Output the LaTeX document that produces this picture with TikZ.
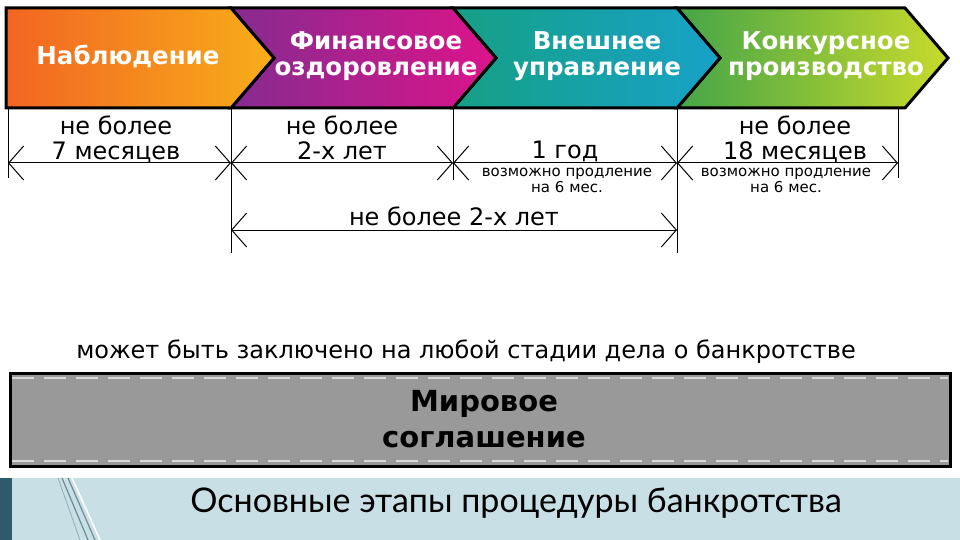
\documentclass[tikz,border=0pt]{standalone}
\usepackage{fontspec}
\setmainfont{DejaVu Sans}
\newfontfamily\titlefont{Lato}
\usetikzlibrary{arrows.meta}
\definecolor{o1}{HTML}{F26522}\definecolor{o2}{HTML}{F8AE1A}
\definecolor{p1}{HTML}{862B90}\definecolor{p2}{HTML}{DC148A}
\definecolor{t1}{HTML}{16A085}\definecolor{t2}{HTML}{17A2C8}
\definecolor{g1}{HTML}{45A548}\definecolor{g2}{HTML}{C8DA2B}
\definecolor{band}{HTML}{C9DFE6}\definecolor{strip}{HTML}{2E5A6B}
\tikzset{
 stage/.style={draw=black,line width=3,line join=miter},
 stagetxt/.style={text=white,font=\bfseries\fontsize{24.5}{26}\selectfont,align=center},
 dim/.style={line width=1,{Straight Barb[length=15,width=34]}-{Straight Barb[length=15,width=34]}},
 vline/.style={line width=1},
 lbl/.style={font=\fontsize{24}{25}\selectfont,align=center},
 small/.style={font=\fontsize{15}{16}\selectfont,align=center},
}
\begin{document}
\begin{tikzpicture}[x=1pt,y=-1pt]
\useasboundingbox (0,0) rectangle (960,540);
\fill[white] (0,0) rectangle (960,540);
% stages
\shade[left color=g1,right color=g2] (677,8)--(905,8)--(948,58)--(905,108)--(677,108)--(720,58)--cycle;
\draw[stage] (677,8)--(905,8)--(948,58)--(905,108)--(677,108)--(720,58)--cycle;
\shade[left color=t1,right color=t2] (453,8)--(677,8)--(720,58)--(677,108)--(453,108)--(496,58)--cycle;
\draw[stage] (453,8)--(677,8)--(720,58)--(677,108)--(453,108)--(496,58)--cycle;
\shade[left color=p1,right color=p2] (231,8)--(453,8)--(496,58)--(453,108)--(231,108)--(274,58)--cycle;
\draw[stage] (231,8)--(453,8)--(496,58)--(453,108)--(231,108)--(274,58)--cycle;
\shade[left color=o1,right color=o2] (6,8)--(231,8)--(274,58)--(231,108)--(6,108)--cycle;
\draw[stage] (6,8)--(231,8)--(274,58)--(231,108)--(6,108)--cycle;
\node[stagetxt] (s1) at (128,56) {Наблюдение};
\node[stagetxt] (s2) at (376,56) {Финансовое\\оздоровление};
\node[stagetxt] (s3) at (597,56) {Внешнее\\управление};
\node[stagetxt] (s4) at (826,56) {Конкурсное\\производство};
% vertical guides
\coordinate (v0) at (8,163); \coordinate (v1) at (231,163); \coordinate (v2) at (453,163);
\coordinate (v3) at (677,163); \coordinate (v4) at (898,163);
\coordinate (w1) at (231,230); \coordinate (w3) at (677,230);
\draw[vline] (8,108)--(8,178);
\draw[vline] (231,108)--(231,253);
\draw[vline] (453,108)--(453,180);
\draw[vline] (677,108)--(677,253);
\draw[vline] (898,108)--(898,178);
\draw[dim] (v0)--(v1); \draw[dim] (v1)--(v2); \draw[dim] (v2)--(v3); \draw[dim] (v3)--(v4);
\draw[dim] (w1)--(w3);
\node[lbl] (d1) at (116,139) {не более\\7 месяцев};
\node[lbl] (d2) at (342,138) {не более\\2-х лет};
\node[lbl] (d3) at (565,151) {1 год};
\node[small] (e3) at (567,180) {возможно продление\\на 6 мес.};
\node[lbl] (d4) at (795,139) {не более\\18 месяцев};
\node[small] (e4) at (786,180) {возможно продление\\на 6 мес.};
\node[lbl] (d5) at (454,216) {не более 2-х лет};
% settlement
\node[lbl] (note) at (466,352) {может быть заключено на любой стадии дела о банкротстве};
\draw[fill=black!40,line width=3] (10,373) rectangle (950,466);
\draw[white!85!black,line width=2,dash pattern=on 22 off 10] (12,378)--(948,378);
\draw[white!85!black,line width=2,dash pattern=on 22 off 10] (12,461)--(948,461);
\node[font=\bfseries\fontsize{29}{36}\selectfont,align=center] (ms) at (484,419) {Мировое\\соглашение};
% footer
\fill[band] (0,478) rectangle (960,540);
\fill[strip] (0,478) rectangle (12,540);
\draw[strip!70,line width=1.2] (62,478)--(88,540);
\draw[strip!70,line width=1.2] (68,478)--(95,540);
\draw[white,line width=1.5] (72,478)--(100,540);
\draw[strip!50,line width=0.8] (58,478)--(80,540);
\node[font=\titlefont\fontsize{34}{36}\selectfont] (title) at (516,503) {Основные этапы процедуры банкротства};
\end{tikzpicture}
\end{document}
